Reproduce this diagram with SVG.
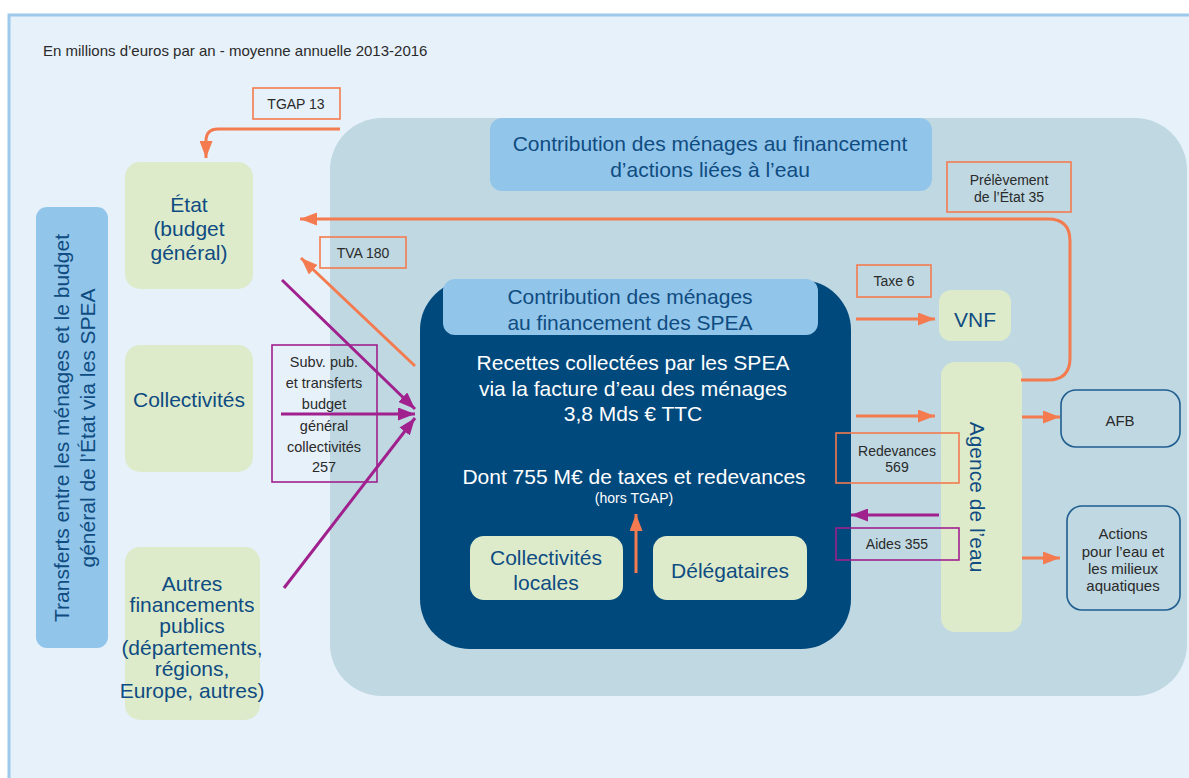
<svg xmlns="http://www.w3.org/2000/svg" width="1189" height="778" viewBox="0 0 1189 778">
<style>
.t{font-family:"Liberation Sans",Arial,sans-serif;}
.nb{font-size:21px;fill:#0F4C81;}
.lb{font-size:14px;fill:#2A2A2A;}
.wh{font-size:21px;fill:#FFFFFF;}
.green{fill:#DDEBCB;}
.lblue{fill:#92C5EA;}
.ob{fill:none;stroke:#F47B4F;stroke-width:1.6;}
.pb{fill:none;stroke:#A0218E;stroke-width:1.6;}
.oa{fill:none;stroke:#F47B4F;stroke-width:3;}
.pa{fill:none;stroke:#A0218E;stroke-width:3;}
.db{fill:none;stroke:#1F5E8F;stroke-width:1.6;}
</style>
<defs>
<marker id="ao" viewBox="0 0 17 13" refX="17" refY="6.5" markerWidth="17" markerHeight="13" markerUnits="userSpaceOnUse" orient="auto"><path d="M0,0 L17,6.5 L0,13 z" fill="#F47B4F"/></marker>
<marker id="ap" viewBox="0 0 17 13" refX="17" refY="6.5" markerWidth="17" markerHeight="13" markerUnits="userSpaceOnUse" orient="auto"><path d="M0,0 L17,6.5 L0,13 z" fill="#A0218E"/></marker>
</defs>
<rect x="0" y="0" width="1189" height="778" fill="#FFFFFF"/>
<rect x="9" y="15" width="1200" height="790" fill="#E7F1FA" stroke="#9DCAEC" stroke-width="3"/>
<rect x="330" y="118" width="857" height="578" rx="52" fill="#BFD8E2"/>
<text class="t" x="43" y="56" font-size="15" fill="#2A2A2A">En millions d’euros par an - moyenne annuelle 2013-2016</text>

<g id="titre-actions">
<rect x="490" y="118" width="442" height="73" rx="12" class="lblue"/>
<text class="t nb" x="710" y="143" text-anchor="middle" dominant-baseline="central"><tspan x="710">Contribution des ménages au financement</tspan><tspan x="710" dy="26">d’actions liées à l’eau</tspan></text>
</g>

<g id="transferts">
<rect x="36" y="207" width="72" height="441" rx="11" class="lblue"/>
<text class="t nb" transform="translate(72,428) rotate(-90)" text-anchor="middle"><tspan x="0" y="-3">Transferts entre les ménages et le budget</tspan><tspan x="0" y="23">général de l’État via les SPEA</tspan></text>
</g>

<g id="etat">
<rect x="125" y="162" width="128" height="127" rx="15" class="green"/>
<text class="t nb" text-anchor="middle" dominant-baseline="central"><tspan x="189" y="204">État</tspan><tspan x="189" y="228">(budget</tspan><tspan x="189" y="252">général)</tspan></text>
</g>

<g id="collectivites">
<rect x="125" y="345" width="128" height="127" rx="15" class="green"/>
<text class="t nb" x="189" y="399" text-anchor="middle" dominant-baseline="central">Collectivités</text>
</g>

<g id="autres">
<rect x="125" y="547" width="135" height="173" rx="15" class="green"/>
<text class="t nb" text-anchor="middle" dominant-baseline="central"><tspan x="192" y="583">Autres</tspan><tspan x="192" y="604">financements</tspan><tspan x="192" y="625">publics</tspan><tspan x="192" y="647">(départements,</tspan><tspan x="192" y="668">régions,</tspan><tspan x="192" y="690">Europe, autres)</tspan></text>
</g>

<g id="spea">
<rect x="420" y="280" width="431" height="369" rx="50" fill="#00497D"/>
<rect x="443" y="279" width="375" height="56" rx="12" class="lblue"/>
<text class="t nb" text-anchor="middle" dominant-baseline="central"><tspan x="630" y="296">Contribution des ménages</tspan><tspan x="630" y="322">au financement des SPEA</tspan></text>
<text class="t wh" text-anchor="middle" dominant-baseline="central"><tspan x="633" y="362">Recettes collectées par les SPEA</tspan><tspan x="633" y="388">via la facture d’eau des ménages</tspan><tspan x="633" y="413">3,8 Mds € TTC</tspan></text>
<text class="t wh" x="634" y="476" text-anchor="middle" dominant-baseline="central">Dont 755 M€ de taxes et redevances</text>
<text class="t" x="634" y="498" font-size="14" fill="#FFFFFF" text-anchor="middle" dominant-baseline="central">(hors TGAP)</text>
</g>

<g id="collectivites-locales">
<rect x="470" y="536" width="153" height="64" rx="14" class="green"/>
<text class="t nb" text-anchor="middle" dominant-baseline="central"><tspan x="546" y="557">Collectivités</tspan><tspan x="546" y="582">locales</tspan></text>
</g>

<g id="delegataires">
<rect x="653" y="536" width="154" height="64" rx="14" class="green"/>
<text class="t nb" x="730" y="570" text-anchor="middle" dominant-baseline="central">Délégataires</text>
</g>

<g id="vnf">
<rect x="939" y="290" width="72" height="51" rx="12" class="green"/>
<text class="t nb" x="975" y="319" text-anchor="middle" dominant-baseline="central">VNF</text>
</g>

<g id="agence">
<rect x="941" y="362" width="81" height="270" rx="14" class="green"/>
<text class="t nb" transform="translate(977,497) rotate(90)" text-anchor="middle" dominant-baseline="central">Agence de l’eau</text>
</g>

<g id="afb">
<rect x="1061" y="390" width="119" height="57" rx="15" class="db"/>
<text class="t" x="1120" y="420" font-size="15" fill="#2A2A2A" text-anchor="middle" dominant-baseline="central">AFB</text>
</g>

<g id="actions">
<rect x="1067" y="506" width="113" height="104" rx="15" class="db"/>
<text class="t" font-size="15" fill="#2A2A2A" text-anchor="middle" dominant-baseline="central"><tspan x="1123" y="533">Actions</tspan><tspan x="1123" y="551">pour l’eau et</tspan><tspan x="1123" y="568">les milieux</tspan><tspan x="1123" y="585">aquatiques</tspan></text>
</g>

<g id="connecteurs">
<path class="oa" d="M340,129 H218 Q206,129 206,141 V158" marker-end="url(#ao)"/>
<path class="oa" d="M1021,380 H1048 Q1070,380 1070,358 V241 Q1070,219 1048,219 H300" marker-end="url(#ao)"/>
<path class="oa" d="M415,366 L301,258" marker-end="url(#ao)"/>
<path class="oa" d="M856,319 H935" marker-end="url(#ao)"/>
<path class="oa" d="M856,416 H935" marker-end="url(#ao)"/>
<path class="oa" d="M1022,417 H1060" marker-end="url(#ao)"/>
<path class="oa" d="M1022,558 H1060" marker-end="url(#ao)"/>
<path class="oa" d="M636,573 V514" marker-end="url(#ao)"/>
<path class="pa" d="M282,280 L415,409" marker-end="url(#ap)"/>
<path class="pa" d="M281,414 H415" marker-end="url(#ap)"/>
<path class="pa" d="M284,588 L415,418" marker-end="url(#ap)"/>
<path class="pa" d="M939,515 H851" marker-end="url(#ap)"/>
</g>

<g id="labels">
<rect x="253" y="88" width="87" height="31" class="ob"/>
<text class="t lb" x="296" y="104" text-anchor="middle" dominant-baseline="central">TGAP 13</text>
<rect x="320" y="237" width="86" height="31" class="ob"/>
<text class="t lb" x="363" y="253" text-anchor="middle" dominant-baseline="central">TVA 180</text>
<rect x="947" y="162" width="124" height="50" class="ob"/>
<text class="t lb" text-anchor="middle" dominant-baseline="central"><tspan x="1009" y="180">Prélèvement</tspan><tspan x="1009" y="197">de l’État 35</tspan></text>
<rect x="857" y="265" width="74" height="32" class="ob"/>
<text class="t lb" x="894" y="281" text-anchor="middle" dominant-baseline="central">Taxe 6</text>
<rect x="836" y="433" width="123" height="50" class="ob"/>
<text class="t lb" text-anchor="middle" dominant-baseline="central"><tspan x="897" y="451">Redevances</tspan><tspan x="897" y="467">569</tspan></text>
<rect x="836" y="528" width="123" height="32" class="pb"/>
<text class="t lb" x="897" y="544" text-anchor="middle" dominant-baseline="central">Aides 355</text>
<rect x="272" y="345" width="105" height="137" class="pb"/>
<text class="t" font-size="14.5" fill="#2A2A2A" text-anchor="middle" dominant-baseline="central"><tspan x="324" y="362">Subv. pub.</tspan><tspan x="324" y="383">et transferts</tspan><tspan x="324" y="404">budget</tspan><tspan x="324" y="426">général</tspan><tspan x="324" y="447">collectivités</tspan><tspan x="324" y="467">257</tspan></text>
</g>
</svg>
